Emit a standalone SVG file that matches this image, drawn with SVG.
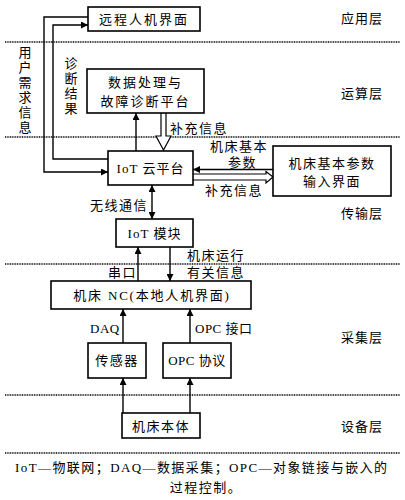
<svg xmlns="http://www.w3.org/2000/svg" width="405" height="500" viewBox="0 0 405 500">
<style>
text{font-family:"Liberation Serif","Noto Sans CJK SC",serif;font-size:13px;fill:#000}
.c{text-anchor:middle}
.box{fill:#fff;stroke:#000;stroke-width:1.6}
.ln{fill:none;stroke:#000;stroke-width:1.4}
.dash{stroke:#000;stroke-width:1.6;stroke-dasharray:1 0.7}
.hol{fill:#fff;stroke:#000;stroke-width:1.2}
</style>
<defs>
<marker id="ah" viewBox="0 0 10 10" refX="10" refY="5" markerWidth="7" markerHeight="7" markerUnits="userSpaceOnUse" orient="auto-start-reverse">
<path d="M0,0 L10,5 L0,10 Z" fill="#000"/>
</marker>
</defs>
<g id="layers">
<line class="dash" x1="5" y1="42" x2="400" y2="42"/>
<line class="dash" x1="5" y1="137" x2="400" y2="137"/>
<line class="dash" x1="5" y1="264" x2="400" y2="264"/>
<line class="dash" x1="5" y1="395" x2="400" y2="395"/>
<line class="dash" x1="5" y1="453" x2="400" y2="453"/>
<text class="c" x="362" y="23" letter-spacing="1">应用层</text>
<text class="c" x="362" y="98" letter-spacing="1">运算层</text>
<text class="c" x="362" y="218" letter-spacing="1">传输层</text>
<text class="c" x="362" y="342" letter-spacing="1">采集层</text>
<text class="c" x="362" y="431" letter-spacing="1">设备层</text>
</g>
<g id="connectors">
<polyline class="ln" points="88,17 44,17 44,172 108,172" marker-end="url(#ah)"/>
<polyline class="ln" points="108,159 53,159 53,25 88,25" marker-end="url(#ah)"/>
<line class="ln" x1="136" y1="151" x2="136" y2="113" marker-end="url(#ah)"/>
<path class="hol" d="M161,113 L161,136 L156,136 L163.5,150 L171,136 L166,136 L166,113"/>
<line class="ln" x1="273" y1="169.5" x2="193" y2="169.5" marker-end="url(#ah)"/>
<path class="hol" d="M193,174 L266,174 L266,171.5 L273,177 L266,183 L266,180 L193,180"/>
<line class="ln" x1="152" y1="185" x2="152" y2="219" marker-start="url(#ah)" marker-end="url(#ah)"/>
<line class="ln" x1="138" y1="281" x2="138" y2="247" marker-end="url(#ah)"/>
<line class="ln" x1="170" y1="247" x2="170" y2="281" marker-end="url(#ah)"/>
<line class="ln" x1="123" y1="343" x2="123" y2="309" marker-end="url(#ah)"/>
<line class="ln" x1="190" y1="343" x2="190" y2="309" marker-end="url(#ah)"/>
<line class="ln" x1="123" y1="413" x2="123" y2="378" marker-end="url(#ah)"/>
<line class="ln" x1="190" y1="413" x2="190" y2="378" marker-end="url(#ah)"/>
<text x="25" y="57" class="c"><tspan x="25">用</tspan><tspan x="25" dy="15">户</tspan><tspan x="25" dy="15">需</tspan><tspan x="25" dy="15">求</tspan><tspan x="25" dy="15">信</tspan><tspan x="25" dy="15">息</tspan></text>
<text x="71" y="68" class="c"><tspan x="71">诊</tspan><tspan x="71" dy="15">断</tspan><tspan x="71" dy="15">结</tspan><tspan x="71" dy="15">果</tspan></text>
<text x="170" y="133" letter-spacing="1.5">补充信息</text>
<text x="210" y="151" letter-spacing="1.5">机床基本</text>
<text x="228" y="167" letter-spacing="1.5">参数</text>
<text x="205" y="195" letter-spacing="1.5">补充信息</text>
<text x="90" y="210" letter-spacing="1.5">无线通信</text>
<text x="108" y="277" letter-spacing="1.5">串口</text>
<text x="187" y="260" letter-spacing="1.5">机床运行</text>
<text x="187" y="277" letter-spacing="1.5">有关信息</text>
<text x="90" y="333" letter-spacing="0.5">DAQ</text>
<text x="195" y="333" letter-spacing="0.5">OPC 接口</text>
</g>
<g id="remote"><rect class="box" x="88" y="7" width="112" height="24"/><text class="c" x="144" y="24" letter-spacing="2">远程人机界面</text></g>
<g id="dataproc"><rect class="box" x="87" y="69" width="117" height="44"/><text class="c" x="145.5" y="87" letter-spacing="2">数据处理与</text><text class="c" x="145.5" y="106" letter-spacing="2">故障诊断平台</text></g>
<g id="cloud"><rect class="box" x="108" y="151" width="85" height="34"/><text class="c" x="150.5" y="173" letter-spacing="1">IoT 云平台</text></g>
<g id="paraminput"><rect class="box" x="273" y="146" width="118" height="50"/><text class="c" x="332" y="168" letter-spacing="1.5">机床基本参数</text><text class="c" x="332" y="186" letter-spacing="1.5">输入界面</text></g>
<g id="iotmodule"><rect class="box" x="116" y="219" width="77" height="28"/><text class="c" x="154.5" y="238" letter-spacing="1">IoT 模块</text></g>
<g id="nc"><rect class="box" x="51" y="281" width="200" height="28"/><text class="c" x="152" y="300" letter-spacing="1.8">机床 NC(本地人机界面)</text></g>
<g id="sensor"><rect class="box" x="88" y="343" width="58" height="35"/><text class="c" x="117" y="365" letter-spacing="1.5">传感器</text></g>
<g id="opc"><rect class="box" x="163" y="343" width="68" height="35"/><text class="c" x="197" y="365" letter-spacing="0.5">OPC 协议</text></g>
<g id="body"><rect class="box" x="122" y="413" width="78" height="25"/><text class="c" x="161" y="431" letter-spacing="1.5">机床本体</text></g>
<g id="caption">
<text x="15" y="472" textLength="372" lengthAdjust="spacing">IoT—物联网；DAQ—数据采集；OPC—对象链接与嵌入的</text>
<text class="c" x="206" y="492" letter-spacing="1.5">过程控制。</text>
</g>
</svg>
